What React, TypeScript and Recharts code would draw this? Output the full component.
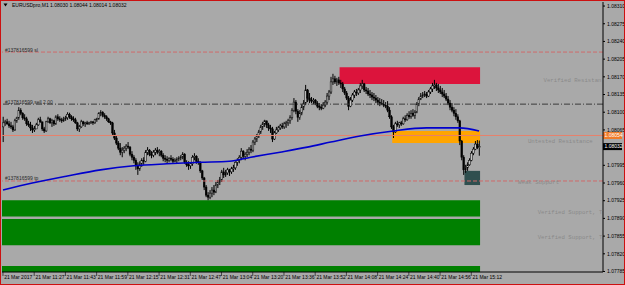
import {
  ComposedChart,
  XAxis,
  YAxis,
  Bar,
  Line,
  ReferenceLine,
  ReferenceArea,
  ReferenceDot,
} from 'recharts'

// prices are stored as points above 1.07000
const BASE = 1.07
const PT = 0.00001
const px = (n: number) => +(BASE + n * PT).toFixed(5)

const firstOpen = 1071

const closes = [
  1079, 1081, 1077, 1073, 1071, 1065, 1083, 1089, 1104, 1098,
  1089, 1087, 1077, 1075, 1069, 1065, 1067, 1075, 1085, 1081,
  1067, 1063, 1081, 1087, 1079, 1083, 1077, 1091, 1087, 1085,
  1083, 1087, 1089, 1096, 1091, 1087, 1085, 1079, 1067, 1071,
  1081, 1077, 1079, 1077, 1079, 1081, 1079, 1085, 1087, 1098,
  1100, 1094, 1091, 1087, 1081, 1079, 1059, 1049, 1039, 1029,
  1021, 1025, 1029, 1033, 1031, 1017, 1011, 1005, 994, 988,
  998, 1005, 1003, 1021, 1025, 1017, 1015, 1021, 1025, 1021,
  1023, 1015, 1009, 1007, 1005, 1009, 1007, 1003, 1005, 1007,
  1009, 1011, 1017, 1001, 996, 994, 998, 1011, 1013, 1003,
  1001, 984, 970, 952, 936, 932, 940, 946, 942, 956,
  962, 966, 982, 976, 980, 986, 982, 988, 990, 1001,
  1005, 1011, 1023, 1013, 1017, 1021, 1027, 1025, 1041, 1047,
  1053, 1061, 1071, 1077, 1083, 1075, 1069, 1067, 1047, 1059,
  1065, 1069, 1073, 1071, 1077, 1079, 1083, 1089, 1104, 1120,
  1102, 1090, 1098, 1110, 1118, 1144, 1128, 1124, 1122, 1124,
  1118, 1112, 1110, 1108, 1114, 1120, 1132, 1140, 1160, 1166,
  1160, 1164, 1158, 1156, 1146, 1138, 1128, 1112, 1124, 1134,
  1140, 1138, 1144, 1152, 1156, 1144, 1142, 1136, 1134, 1130,
  1128, 1124, 1120, 1118, 1116, 1114, 1112, 1104, 1091, 1071,
  1061, 1077, 1075, 1079, 1077, 1087, 1085, 1094, 1091, 1098,
  1094, 1100, 1116, 1126, 1132, 1134, 1136, 1132, 1140, 1146,
  1152, 1154, 1148, 1144, 1140, 1136, 1132, 1126, 1118, 1110,
  1104, 1098, 1091, 1083, 1043, 1011, 986, 990, 996, 1005,
  1019, 1027, 1037, 1030, 1032,
]

const highs = [
  1091, 1085, 1087, 1083, 1081, 1075, 1087, 1091, 1110, 1108,
  1100, 1096, 1091, 1083, 1081, 1075, 1073, 1079, 1089, 1091,
  1081, 1071, 1083, 1091, 1089, 1087, 1085, 1094, 1096, 1092,
  1089, 1091, 1093, 1100, 1099, 1094, 1092, 1089, 1081, 1075,
  1085, 1083, 1081, 1083, 1081, 1083, 1082, 1087, 1089, 1100,
  1104, 1102, 1098, 1094, 1089, 1083, 1081, 1065, 1053, 1043,
  1039, 1031, 1033, 1037, 1041, 1033, 1023, 1015, 1009, 1001,
  1003, 1009, 1011, 1025, 1031, 1027, 1023, 1025, 1029, 1031,
  1027, 1025, 1019, 1015, 1013, 1011, 1015, 1011, 1009, 1011,
  1013, 1015, 1021, 1019, 1005, 1003, 1001, 1015, 1019, 1015,
  1009, 1003, 986, 972, 956, 942, 946, 952, 956, 962,
  966, 972, 986, 990, 986, 990, 988, 992, 996, 1003,
  1009, 1015, 1029, 1025, 1021, 1027, 1031, 1035, 1045, 1051,
  1057, 1065, 1075, 1081, 1085, 1083, 1079, 1075, 1071, 1063,
  1071, 1073, 1077, 1079, 1081, 1083, 1087, 1094, 1108, 1128,
  1124, 1106, 1104, 1116, 1124, 1154, 1146, 1138, 1130, 1128,
  1126, 1122, 1118, 1116, 1120, 1124, 1138, 1144, 1170, 1176,
  1172, 1168, 1170, 1164, 1160, 1150, 1142, 1132, 1130, 1138,
  1144, 1146, 1148, 1158, 1164, 1158, 1150, 1148, 1144, 1140,
  1138, 1134, 1130, 1128, 1126, 1124, 1120, 1122, 1110, 1094,
  1075, 1081, 1083, 1081, 1083, 1091, 1094, 1098, 1102, 1104,
  1106, 1104, 1120, 1130, 1138, 1140, 1142, 1140, 1144, 1150,
  1158, 1164, 1158, 1156, 1152, 1148, 1144, 1138, 1132, 1124,
  1118, 1110, 1106, 1096, 1085, 1045, 1015, 996, 1001, 1009,
  1023, 1031, 1043, 1045, 1044,
]

const lows = [
  1041, 1073, 1075, 1069, 1067, 1061, 1063, 1079, 1085, 1094,
  1085, 1083, 1073, 1071, 1063, 1059, 1061, 1067, 1073, 1079,
  1063, 1059, 1061, 1079, 1077, 1071, 1073, 1075, 1083, 1081,
  1079, 1081, 1083, 1085, 1087, 1083, 1081, 1077, 1063, 1061,
  1069, 1073, 1071, 1075, 1075, 1077, 1075, 1077, 1081, 1085,
  1092, 1090, 1087, 1083, 1079, 1075, 1055, 1045, 1035, 1025,
  1015, 1011, 1019, 1023, 1027, 1013, 1005, 999, 986, 976,
  984, 992, 996, 1001, 1015, 1013, 1009, 1011, 1015, 1017,
  1013, 1011, 1003, 1001, 999, 1001, 1003, 999, 1001, 999,
  1003, 1005, 1007, 998, 992, 986, 988, 994, 1005, 998,
  996, 980, 966, 946, 932, 926, 928, 932, 936, 940,
  950, 956, 962, 970, 972, 976, 974, 978, 982, 986,
  994, 999, 1005, 1007, 1005, 1011, 1015, 1019, 1021, 1035,
  1041, 1049, 1057, 1065, 1071, 1069, 1063, 1059, 1041, 1045,
  1057, 1061, 1065, 1067, 1067, 1069, 1073, 1077, 1085, 1100,
  1096, 1081, 1085, 1094, 1104, 1114, 1120, 1118, 1118, 1116,
  1114, 1108, 1104, 1104, 1106, 1110, 1116, 1124, 1136, 1154,
  1156, 1152, 1154, 1148, 1140, 1134, 1124, 1104, 1110, 1120,
  1128, 1132, 1134, 1138, 1146, 1140, 1136, 1132, 1128, 1124,
  1122, 1118, 1114, 1112, 1114, 1110, 1108, 1100, 1087, 1067,
  1049, 1059, 1071, 1069, 1073, 1075, 1081, 1083, 1087, 1087,
  1091, 1087, 1098, 1112, 1124, 1128, 1130, 1128, 1130, 1136,
  1140, 1146, 1142, 1138, 1136, 1130, 1128, 1122, 1114, 1104,
  1100, 1092, 1085, 1079, 1035, 1005, 976, 980, 984, 994,
  1003, 1015, 1025, 1027, 1014,
]

// blue moving average: [bar index, points]
const maPoints: [number, number][] = [
  [0, 946], [15, 960], [33, 974], [50, 986], [67, 994], [84, 998],
  [101, 1001], [116, 1003], [127, 1011], [142, 1021], [156, 1031],
  [168, 1041], [183, 1053], [200, 1063], [217, 1069], [234, 1069], [244, 1063],
]

const timeLabels = [
  '21 Mar 2017', '21 Mar 11:27', '21 Mar 11:43', '21 Mar 11:59',
  '21 Mar 12:15', '21 Mar 12:31', '21 Mar 12:47', '21 Mar 13:04',
  '21 Mar 13:20', '21 Mar 13:36', '21 Mar 13:52', '21 Mar 14:08',
  '21 Mar 14:24', '21 Mar 14:40', '21 Mar 14:56', '21 Mar 15:12',
]

// 1.08030 sits under the current-price tag, so it is left out
const priceTicks = [
  1.07785, 1.0782, 1.07855, 1.0789, 1.07925, 1.0796, 1.07995,
  1.08065, 1.081, 1.08135, 1.0817, 1.08205, 1.0824, 1.08275, 1.0831,
]

const Y_MIN = 1.07784
const Y_MAX = 1.08318
const SLOTS = 308
const LABEL_EVERY = 16

const FONT = "'Liberation Sans Narrow', 'Arial Narrow', 'Liberation Sans', sans-serif"
const MONO = "'Liberation Mono', 'DejaVu Sans Mono', monospace"

const maByIndex = new Map(maPoints)

const rows = Array.from({ length: SLOTS }, (_, i) => {
  if (i >= closes.length) return { i }
  const open = i === 0 ? firstOpen : closes[i - 1]
  const ma = maByIndex.get(i)
  return {
    i,
    hl: [px(lows[i]), px(highs[i])],
    open: px(open),
    close: px(closes[i]),
    high: px(highs[i]),
    low: px(lows[i]),
    ma: ma != null ? px(ma) : null,
  }
})

const Candle = (props: any) => {
  const { x, y, width, height, payload } = props
  if (!payload || payload.high == null) return null
  const top = Math.min(y, y + height)
  const h = Math.abs(height)
  const span = payload.high - payload.low || 1
  const toY = (v: number) => top + ((payload.high - v) / span) * h
  const cx = x + width / 2
  const yo = toY(payload.open)
  const yc = toY(payload.close)
  const bull = payload.close >= payload.open
  const bt = Math.min(yo, yc)
  const bh = Math.max(Math.abs(yc - yo), 0.8)
  return (
    <g>
      <line x1={cx} x2={cx} y1={top} y2={top + h} stroke='#000' strokeWidth={1} />
      <rect
        x={cx - 0.85}
        y={bt}
        width={1.7}
        height={bh}
        fill={bull ? '#c4c4c4' : '#000'}
        stroke='#000'
        strokeWidth={0.5}
      />
    </g>
  )
}

const TimeTick = (props: any) => {
  const { x, y, payload } = props
  const idx = Number(payload.value)
  if (idx % LABEL_EVERY !== 0) return null
  const text = timeLabels[idx / LABEL_EVERY]
  if (!text) return null
  return (
    <g>
      <line x1={x} x2={x} y1={y} y2={y + 4} stroke='#000' strokeWidth={0.6} />
      <text x={x + 1.2} y={y + 6.6} fontSize={5} fill='#000' fontFamily={FONT}>
        {text}
      </text>
    </g>
  )
}

const OrderText = (props: any) => {
  const { viewBox, text } = props
  if (!viewBox) return null
  return (
    <text x={viewBox.x + 3} y={viewBox.y - 0.5} fontSize={5} fill='#2a2a2a' fontFamily={FONT}>
      {text}
    </text>
  )
}

const ZoneText = (props: any) => {
  const { viewBox, text } = props
  if (!viewBox) return null
  return (
    <text x={viewBox.x} y={viewBox.y + 2} fontSize={5.7} fill='#8a8a8a' fontFamily={MONO}>
      {text}
    </text>
  )
}

const PriceTag = (props: any) => {
  const { viewBox, text, bg, fg } = props
  if (!viewBox) return null
  const x = viewBox.x + viewBox.width
  const y = viewBox.y
  return (
    <g>
      <rect x={x} y={y - 3.5} width={19} height={7} fill={bg} />
      <text x={x + 1.5} y={y + 1.8} fontSize={5} fill={fg} fontFamily={FONT}>
        {text}
      </text>
    </g>
  )
}

export default function App() {
  return (
    <div
      style={{
        position: 'absolute',
        left: 0,
        top: 0,
        width: 625,
        height: 285,
        background: '#a9a9a9',
        overflow: 'hidden',
      }}
    >
      <ComposedChart
        width={625}
        height={285}
        data={rows}
        margin={{ top: 2, right: 2, bottom: 2, left: 2 }}
      >
        <XAxis
          dataKey='i'
          type='category'
          interval={0}
          height={11}
          tickSize={0}
          tickMargin={0}
          tickLine={false}
          tick={<TimeTick />}
          axisLine={{ stroke: '#000' }}
        />
        <YAxis
          orientation='right'
          width={20}
          domain={[Y_MIN, Y_MAX]}
          allowDataOverflow
          ticks={priceTicks}
          interval={0}
          tickSize={2}
          tickMargin={2}
          tickFormatter={(v: number) => v.toFixed(5)}
          tick={{ fontSize: 5, fill: '#000', fontFamily: FONT }}
          axisLine={{ stroke: '#000' }}
          tickLine={{ stroke: '#000' }}
        />

        {/* order lines */}
        <ReferenceLine
          y={px(1219)}
          stroke='#cf6a6a'
          strokeDasharray='4 2'
          label={<OrderText text='#137816599 sl' />}
        />
        <ReferenceLine
          y={px(1116)}
          stroke='#3a3a3a'
          strokeDasharray='6 2 1 2'
          label={<OrderText text='#137816599 sell 2.00' />}
        />
        <ReferenceLine
          y={px(964)}
          stroke='#cf6a6a'
          strokeDasharray='4 2'
          label={<OrderText text='#137816599 tp' />}
        />
        <ReferenceLine
          y={px(1054)}
          stroke='#e8806a'
          label={<PriceTag text='1.08054' bg='#f07c2a' fg='#fff' />}
        />

        {/* supply / demand zones */}
        <ReferenceArea x1={173} x2={244} y1={px(1189)} y2={px(1156)} fill='#dc143c' fillOpacity={1} stroke='none' />
        <ReferenceArea x1={200} x2={244} y1={px(1063)} y2={px(1039)} fill='#ffa500' fillOpacity={1} stroke='none' />
        <ReferenceArea x1={237} x2={244} y1={px(984)} y2={px(956)} fill='#2f4f4f' fillOpacity={1} stroke='none' />
        <ReferenceArea x1={0} x2={244} y1={px(926)} y2={px(894)} fill='#008000' fillOpacity={1} stroke='none' />
        <ReferenceArea x1={0} x2={244} y1={px(889)} y2={px(837)} fill='#008000' fillOpacity={1} stroke='none' />
        <ReferenceArea x1={0} x2={244} y1={px(796)} y2={Y_MIN} fill='#008000' fillOpacity={1} stroke='none' />

        <ReferenceDot x={277} y={px(1164)} r={0} fill='none' stroke='none' label={<ZoneText text='Verified Resistan' />} />
        <ReferenceDot x={269} y={px(1043)} r={0} fill='none' stroke='none' label={<ZoneText text='Untested Resistance' />} />
        <ReferenceDot x={264} y={px(962)} r={0} fill='none' stroke='none' label={<ZoneText text='Weak Support' />} />
        <ReferenceDot x={274} y={px(903)} r={0} fill='none' stroke='none' label={<ZoneText text='Verified Support, T' />} />
        <ReferenceDot x={274} y={px(853)} r={0} fill='none' stroke='none' label={<ZoneText text='Verified Support, T' />} />

        <Bar dataKey='hl' isAnimationActive={false} shape={(p: any) => <Candle {...p} />} />
        <Line
          dataKey='ma'
          type='monotone'
          stroke='#0000cd'
          strokeWidth={1.6}
          dot={false}
          activeDot={false}
          connectNulls
          isAnimationActive={false}
        />

        <ReferenceLine
          y={px(1032)}
          stroke='none'
          label={<PriceTag text='1.08032' bg='#000' fg='#fff' />}
        />
      </ComposedChart>

      <svg
        width={200}
        height={10}
        style={{ position: 'absolute', left: 0, top: 0 }}
      >
        <polygon points='3.5,3.5 7.5,3.5 5.5,6.5' fill='#000' />
        <text x={12} y={6.8} fontSize={5} fill='#000' fontFamily={FONT}>
          EURUSDpro,M1  1.08030 1.08044 1.08014 1.08032
        </text>
      </svg>

      <div
        style={{
          position: 'absolute',
          inset: 0,
          border: '1.5px solid #cc1010',
          boxSizing: 'border-box',
          pointerEvents: 'none',
        }}
      />
    </div>
  )
}
